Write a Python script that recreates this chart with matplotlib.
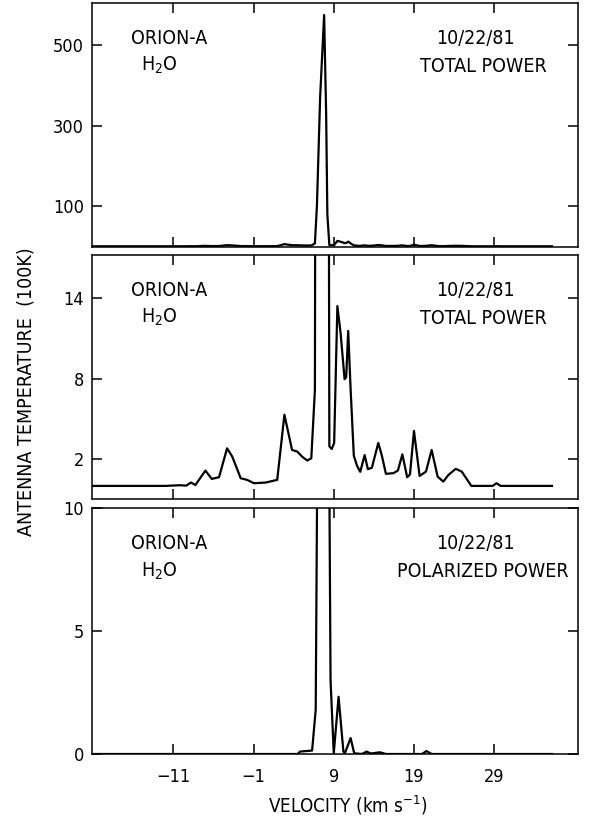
#! /usr/bin/env python3

import numpy as np
import matplotlib.pyplot as plt

plt.rcParams['font.family'] = ['DejaVu Sans']
plt.rcParams['font.stretch'] = 'condensed'
plt.rcParams['mathtext.fontset'] = 'custom'
plt.rcParams['mathtext.rm'] = 'DejaVu Sans:stretch=condensed'
plt.rcParams['mathtext.default'] = 'regular'

# total power spectrum, velocity (km/s) vs antenna temperature (100K)
vel_total = [-21.0, -12.0, -10.2, -9.4, -8.8, -8.25, -7.0, -6.2, -5.3, -4.3,
             -3.65, -2.6, -1.8, -0.95, 0.5, 1.95, 2.85, 3.8, 4.45, 5.05,
             5.7, 6.2, 6.65, 6.9, 7.3, 7.8, 8.05, 8.2, 8.45, 8.75,
             9.05, 9.45, 9.85, 10.35, 10.55, 10.8, 11.1, 11.5, 11.9, 12.3,
             12.85, 13.25, 13.75, 14.55, 15.0, 15.5, 16.45, 17.0, 17.55, 18.15,
             18.5, 19.0, 19.7, 20.5, 21.2, 21.95, 22.65, 23.3, 24.2, 24.95,
             26.15, 28.8, 29.3, 29.8, 36.2]
temp_total = [0.0, 0.0, 0.05, 0.02, 0.25, 0.07, 1.14, 0.52, 0.65, 2.8,
              2.18, 0.57, 0.45, 0.2, 0.25, 0.45, 5.3, 2.68, 2.56, 2.18,
              1.89, 2.06, 7.15, 100.0, 370.0, 575.0, 330.0, 80.0, 2.95, 2.75,
              3.2, 13.4, 11.4, 7.95, 8.1, 11.55, 7.2, 2.25, 1.5, 1.05,
              2.3, 1.25, 1.35, 3.2, 2.25, 0.9, 0.95, 1.15, 2.35, 0.65,
              0.85, 4.1, 0.74, 1.07, 2.68, 0.69, 0.32, 0.82, 1.27, 1.07,
              0.0, 0.0, 0.2, 0.0, 0.0]

# polarized power spectrum
vel_pol = [-21.0, 4.5, 4.8, 6.3, 6.75, 6.95, 7.8, 8.45, 8.6, 9.0,
           9.6, 10.2, 10.4, 11.1, 11.55, 12.5, 13.1, 13.6, 14.75, 15.5,
           20.0, 20.55, 21.2, 36.2]
temp_pol = [0.0, 0.0, 0.1, 0.14, 1.8, 12.0, 200.0, 11.0, 3.0, 0.03,
            2.33, 0.1, 0.04, 0.65, 0.03, 0.0, 0.1, 0.02, 0.07, 0.0,
            0.0, 0.12, 0.0, 0.0]

xticks = [-11, -1, 9, 19, 29]
yticks_top = [100, 300, 500]
yticks_mid = [2, 8, 14]
yticks_bot = [0, 5, 10]

panels = [
    (vel_total, temp_total, (-2.5, 604), yticks_top, 'TOTAL POWER'),
    (vel_total, temp_total, (-1.0, 17.2), yticks_mid, 'TOTAL POWER'),
    (vel_pol, temp_pol, (0, 10), yticks_bot, 'POLARIZED POWER'),
]

fig = plt.figure(figsize=(5.89, 8.21), dpi=100)
left, width = 0.1567, 0.824
bottoms = [0.6988, 0.3918, 0.0816]
heights = [0.2972, 0.2976, 0.2993]

for i, (v, t, ylim, yt, label) in enumerate(panels):
    ax = fig.add_axes([left, bottoms[i], width, heights[i]])
    ax.plot(v, t, color='black', lw=1.6, clip_on=True)
    ax.set_xlim(-21.1, 39.4)
    ax.set_ylim(*ylim)
    ax.set_xticks(xticks)
    ax.set_yticks(yt)
    ax.tick_params(direction='in', length=7, width=1.1, top=True, right=True,
                   labelsize=13, colors='black')
    ax.tick_params(axis='y', pad=6)
    ax.tick_params(axis='x', pad=10)
    if i < 2:
        ax.set_xticklabels([])
    for s in ax.spines.values():
        s.set_linewidth(1.1)
    ax.text(0.158, 0.855, 'ORION-A', transform=ax.transAxes, ha='center',
            va='center', fontsize=14)
    ax.text(0.138, 0.745, 'H$_2$O', transform=ax.transAxes, ha='center',
            va='center', fontsize=14)
    ax.text(0.789, 0.855, '10/22/81', transform=ax.transAxes, ha='center',
            va='center', fontsize=14)
    ax.text(0.805, 0.742, label, transform=ax.transAxes, ha='center',
            va='center', fontsize=14)

fig.text(0.044, 0.523, 'ANTENNA TEMPERATURE  (100K)', rotation=90,
         ha='center', va='center', fontsize=14)
fig.text(0.591, 0.0195, 'VELOCITY (km s$^{-1}$)', ha='center', va='center',
         fontsize=13.5)

fig.savefig('out.png', dpi=100)
